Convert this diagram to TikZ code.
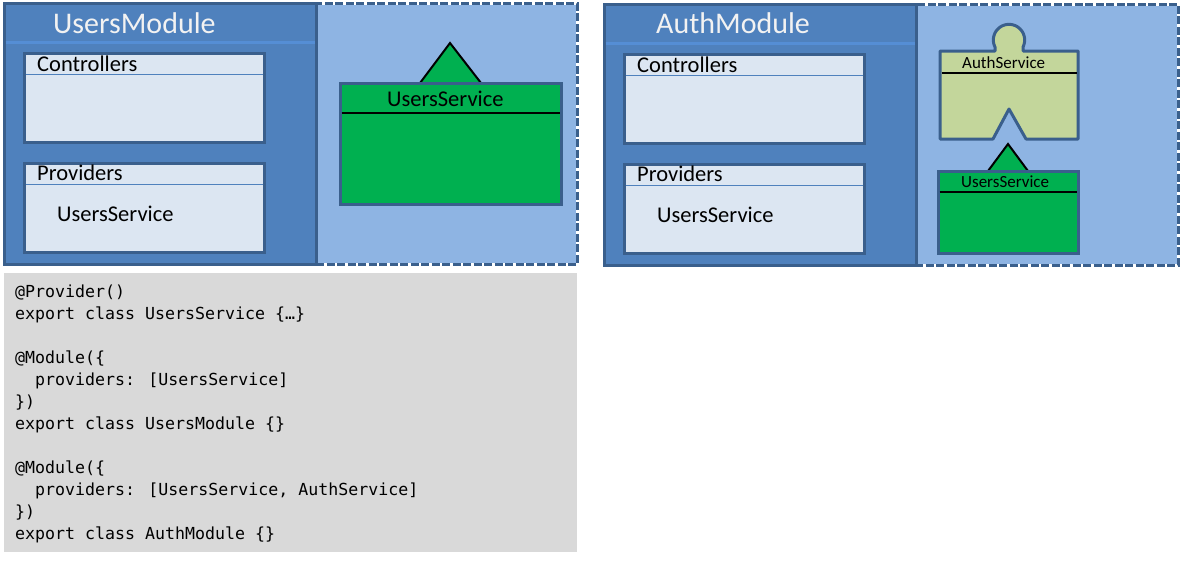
\documentclass[tikz,border=0pt]{standalone}
\usepackage{fontspec}
\setmainfont{Carlito}
\newfontfamily\codefont{DejaVu Sans Mono}
\definecolor{modfill}{HTML}{4F81BD}
\definecolor{modline}{HTML}{3A5F8C}
\definecolor{hdrline}{HTML}{558ED5}
\definecolor{regfill}{HTML}{8EB4E3}
\definecolor{innerfill}{HTML}{DCE6F2}
\definecolor{svcgreen}{HTML}{00B050}
\definecolor{authfill}{HTML}{C3D69B}
\definecolor{codebg}{HTML}{D9D9D9}
\definecolor{titlecol}{HTML}{F2F2F2}
\begin{document}
\begin{tikzpicture}[x=1pt,y=-1pt,
  base/.style={inner sep=0pt, outer sep=0pt, anchor=north west},
  modbox/.style={base, fill=modfill, draw=modline, line width=3pt, minimum width=312pt, minimum height=261pt},
  region/.style={base, fill=regfill, draw=white, line width=3pt, minimum height=261pt,
    postaction={draw=modline, line width=3pt, dash pattern=on 8pt off 2.5pt}},
  hdr/.style={hdrline, line width=3pt},
  innerbox/.style={base, fill=innerfill, draw=modline, line width=3pt, minimum width=240pt, minimum height=89pt},
  innerline/.style={modfill, line width=1pt},
  svcbox/.style={base, fill=svcgreen, draw=modline, line width=3pt},
  blackline/.style={black, line width=1.5pt},
  tri/.style={fill=svcgreen, draw=black, line width=2pt, line join=miter},
  title/.style={inner sep=0pt, anchor=base west, text=titlecol, font=\fontsize{30}{36}\selectfont},
  lbl/.style={inner sep=0pt, anchor=base west, text=black, font=\fontsize{22.5}{27}\selectfont},
  slbl/.style={inner sep=0pt, anchor=base west, text=black, font=\fontsize{17}{20}\selectfont},
  code/.style={inner sep=0pt, anchor=base west, text=black, font=\codefont\fontsize{16.6}{22}\selectfont}
]
\useasboundingbox (0,0) rectangle (1187,562);

% ---------- UsersModule ----------
\node[region, minimum width=261pt] (ur) at (316,3) {};
\node[modbox] (um) at (4,3) {};
\draw[hdr] ([xshift=1.5pt,yshift=-39pt]um.north west) -- ([xshift=-1.5pt,yshift=-39pt]um.north east);
\node[title] (umt) at (53,33) {UsersModule};

\node[innerbox] (uc) at (24,53) {};
\draw[innerline] ([xshift=1.5pt,yshift=-21pt]uc.north west) -- ([xshift=-1.5pt,yshift=-21pt]uc.north east);
\node[lbl] (uct) at (37,71) {Controllers};

\node[innerbox] (up) at (24,163) {};
\draw[innerline] ([xshift=1.5pt,yshift=-21pt]up.north west) -- ([xshift=-1.5pt,yshift=-21pt]up.north east);
\node[lbl] (upt) at (37,180) {Providers};
\node[lbl] (ups) at (57,221) {UsersService};

\path[tri] (420,83) -- (450,43) -- (481,83);
\node[svcbox, minimum width=221pt, minimum height=121pt] (us) at (340,83) {};
\draw[blackline] ([xshift=1.5pt,yshift=-30pt]us.north west) -- ([xshift=-1.5pt,yshift=-30pt]us.north east);
\node[lbl] (ust) at (387,106) {UsersService};

% ---------- AuthModule ----------
\node[region, minimum width=263pt] (ar) at (915,4) {};
\node[modbox] (am) at (604,4) {};
\draw[hdr] ([xshift=1.5pt,yshift=-39pt]am.north west) -- ([xshift=-1.5pt,yshift=-39pt]am.north east);
\node[title] (amt) at (656,34) {AuthModule};

\node[innerbox] (ac) at (624,54) {};
\draw[innerline] ([xshift=1.5pt,yshift=-21pt]ac.north west) -- ([xshift=-1.5pt,yshift=-21pt]ac.north east);
\node[lbl] (act) at (637,72) {Controllers};

\node[innerbox] (ap) at (624,164) {};
\draw[innerline] ([xshift=1.5pt,yshift=-21pt]ap.north west) -- ([xshift=-1.5pt,yshift=-21pt]ap.north east);
\node[lbl] (apt) at (637,181) {Providers};
\node[lbl] (aps) at (657,222) {UsersService};

% AuthService puzzle piece
\draw[fill=authfill, draw=modline, line width=3pt, line join=round]
  (940,51) -- (995,51)
  -- plot[domain=153.4:386.6, samples=50] ({1009+15.65*cos(\x)},{40+15.65*sin(\x)})
  -- (1023,51) -- (1078,51) -- (1078,139) -- (1026,139) -- (1009,109) -- (993,139) -- (940,139) -- cycle;
\draw[blackline] (941.5,73) -- (1076.5,73);
\node[slbl] (ast) at (962,68.5) {AuthService};

\path[tri] (988,171) -- (1008,144) -- (1028,171);
\node[svcbox, minimum width=140pt, minimum height=82pt] (as) at (938,171) {};
\draw[blackline] ([xshift=1.5pt,yshift=-21pt]as.north west) -- ([xshift=-1.5pt,yshift=-21pt]as.north east);
\node[slbl] (ass) at (961,187) {UsersService};

% ---------- Code ----------
\node[base, fill=codebg, minimum width=573pt, minimum height=279pt] (cb) at (4,273) {};
\node[code] (k1) at (15,297) {@Provider()};
\node[code] (k2) at (15,319) {export class UsersService \{…\}};
\node[code] (k3) at (15,363) {@Module(\{};
\node[code] (k4) at (35,385) {providers: [UsersService]};
\node[code] (k5) at (15,407) {\})};
\node[code] (k6) at (15,429) {export class UsersModule \{\}};
\node[code] (k7) at (15,473) {@Module(\{};
\node[code] (k8) at (35,495) {providers: [UsersService, AuthService]};
\node[code] (k9) at (15,517) {\})};
\node[code] (k10) at (15,539) {export class AuthModule \{\}};
\end{tikzpicture}
\end{document}
